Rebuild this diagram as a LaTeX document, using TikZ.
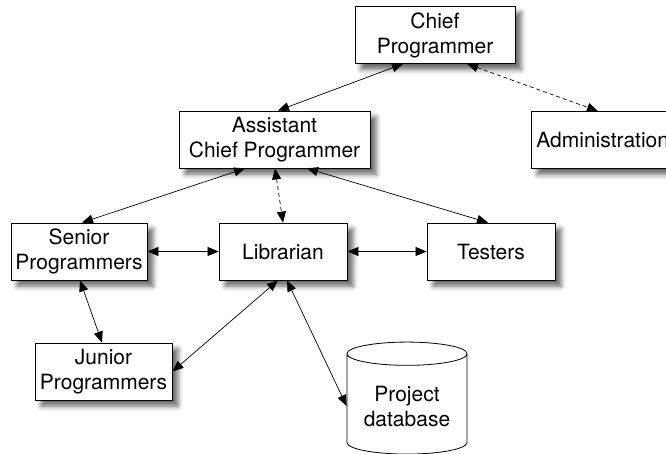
\documentclass[tikz,border=0pt]{standalone}
\usepackage{fontspec}
\setmainfont{TeX Gyre Heros}
\usetikzlibrary{arrows.meta,shapes.geometric,shadows.blur}
\tikzset{
  box/.style={draw,fill=white,line width=0.8pt,align=center,inner sep=2pt,
    minimum height=57pt,font=\fontsize{21}{25}\selectfont,
    blur shadow={shadow xshift=6pt,shadow yshift=-6pt,shadow blur radius=5pt,shadow opacity=60}},
  link/.style={<->,>={Triangle[length=11pt,width=9pt]},line width=0.7pt},
  dlink/.style={link,dash pattern=on 4pt off 3pt}
}
\begin{document}
\begin{tikzpicture}[x=1pt,y=-1pt]
\useasboundingbox (0,0) rectangle (666,453);
\clip (0,0) rectangle (666,453);
% the team boxes
\node[box,minimum width=160pt] (chief) at (435,35) {Chief\\Programmer};
\node[box,minimum width=191pt] (asst) at (274.5,139.5) {Assistant\\Chief Programmer};
\node[box,anchor=west,inner xsep=5pt] (admin) at (531,140) {Administration};
\node[box,minimum width=136pt] (senior) at (79,251.5) {Senior\\Programmers};
\node[box,minimum width=128pt] (lib) at (283,251.5) {Librarian};
\node[box,minimum width=128pt] (testers) at (491,251.5) {Testers};
\node[box,minimum width=137pt] (junior) at (103.5,371.5) {Junior\\Programmers};
% database (no shadow)
\node[draw,fill=white,line width=0.8pt,cylinder,shape border rotate=90,aspect=0.25,
  minimum width=120pt,minimum height=112pt,align=center,
  font=\fontsize{21}{25}\selectfont] (db) at (407,406) {Project\\database};
% links
\draw[link] ([xshift=-32pt]chief.south) -- ([xshift=3.5pt]asst.north);
\draw[dlink] ([xshift=32pt]chief.south) -- ([xshift=67pt]admin.north west);
\draw[link] ([xshift=-29.5pt]asst.south) -- ([xshift=3pt]senior.north);
\draw[dlink] ([xshift=0.5pt]asst.south) -- (lib.north);
\draw[link] ([xshift=32.5pt]asst.south) -- ([xshift=-3pt]testers.north);
\draw[link] (senior.east) -- (lib.west);
\draw[link] (lib.east) -- (testers.west);
\draw[link] ([xshift=1pt]senior.south) -- ([xshift=-1.5pt]junior.north);
\draw[link] ([xshift=-5pt]lib.south) -- (junior.east);
\draw[link] ([xshift=4pt]lib.south) -- (db.west);
\end{tikzpicture}
\end{document}
